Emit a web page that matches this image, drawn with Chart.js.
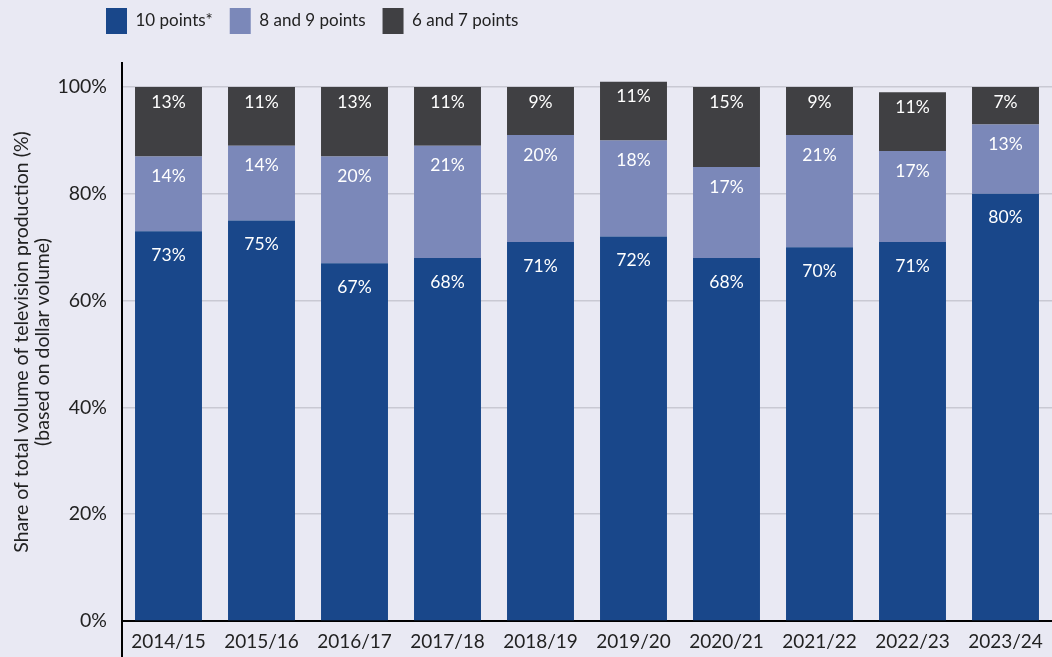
<!DOCTYPE html>
<html>
<head>
<meta charset="utf-8">
<title>Television production by points</title>
<script src="https://cdn.jsdelivr.net/npm/chart.js@4.4.1/dist/chart.umd.min.js"></script>
<style>
    html, body { margin: 0; padding: 0; background: #e9e9f3; }
    canvas { display: block; }
</style>
</head>
<body>
<canvas id="pointsChart" width="1052" height="657"></canvas>
<script>
const years = ["2014/15", "2015/16", "2016/17", "2017/18", "2018/19", "2019/20", "2020/21", "2021/22", "2022/23", "2023/24"];
const tenPoints = [73, 75, 67, 68, 71, 72, 68, 70, 71, 80];
const eightNinePoints = [14, 14, 20, 21, 20, 18, 17, 21, 17, 13];
const sixSevenPoints = [13, 11, 13, 11, 9, 11, 15, 9, 11, 7];
const yTicks = [0, 20, 40, 60, 80, 100];

const FONT = "Lato";
const TEXT = "#222222";

// white % labels near the top of each segment
const segmentLabels = {
    id: "segmentLabels",
    afterDatasetsDraw(chart) {
        const ctx = chart.ctx;
        const offsets = [24, 20, 15];
        ctx.save();
        ctx.fillStyle = "#ffffff";
        ctx.font = `17.5px ${FONT}`;
        ctx.textAlign = "center";
        ctx.textBaseline = "middle";
        chart.data.datasets.forEach((ds, i) => {
            chart.getDatasetMeta(i).data.forEach((bar, j) => {
                ctx.fillText(ds.data[j] + "%", bar.x, bar.y + offsets[i]);
            });
        });
        ctx.restore();
    },
};

// move the legend to the left, and run the y axis line down past the x axis
const frame = {
    id: "frame",
    afterLayout(chart) {
        chart.legend.left = 89;
        chart.legend.top = -9;
    },
    afterDraw(chart) {
        const ctx = chart.ctx;
        const x = chart.chartArea.left;
        ctx.save();
        ctx.strokeStyle = "#000000";
        ctx.lineWidth = 2;
        ctx.beginPath();
        ctx.moveTo(x, chart.chartArea.bottom - 1);
        ctx.lineTo(x, chart.height);
        ctx.stroke();
        ctx.restore();
    },
};

const ctx = document.getElementById("pointsChart").getContext("2d");

new Chart(ctx, {
    type: "bar",
    data: {
        labels: years,
        datasets: [
            { label: "10 points*", data: tenPoints, backgroundColor: "#19478a" },
            { label: "8 and 9 points", data: eightNinePoints, backgroundColor: "#7b88b9" },
            { label: "6 and 7 points", data: sixSevenPoints, backgroundColor: "#404043" },
        ],
    },
    options: {
        responsive: false,
        animation: false,
        layout: { padding: { top: 10, right: 0, bottom: 0, left: 0 } },
        datasets: {
            bar: { barPercentage: 0.72, categoryPercentage: 1 },
        },
        plugins: {
            tooltip: { enabled: false },
            legend: {
                position: "top",
                align: "start",
                labels: {
                    boxWidth: 21,
                    boxHeight: 26,
                    padding: 17,
                    color: TEXT,
                    font: { family: FONT, size: 17 },
                },
            },
        },
        scales: {
            x: {
                stacked: true,
                grid: { display: false, drawTicks: false },
                border: { display: true, color: "#000000", width: 2 },
                ticks: {
                    color: TEXT,
                    padding: 9,
                    font: { family: FONT, size: 19 },
                    maxRotation: 0,
                },
                afterFit(scale) { scale.height = 36; },
            },
            y: {
                stacked: true,
                min: 0,
                max: 104.5,
                afterBuildTicks(scale) {
                    scale.ticks = yTicks.map((v) => ({ value: v }));
                },
                afterFit(scale) { scale.width = 122; },
                grid: {
                    drawTicks: false,
                    lineWidth: 1.5,
                    color: (c) => (c.tick && c.tick.value === 0 ? "rgba(0,0,0,0)" : "#c9c9d3"),
                },
                border: { display: true, color: "#000000", width: 2 },
                ticks: {
                    color: TEXT,
                    padding: 15,
                    font: { family: FONT, size: 19.5 },
                    callback: (v) => v + "%",
                },
                title: {
                    display: true,
                    text: ["Share of total volume of television production (%)", "(based on dollar volume)"],
                    color: TEXT,
                    font: { family: FONT, size: 19.5, lineHeight: 1.08 },
                    padding: { top: 11, bottom: 0 },
                },
            },
        },
    },
    plugins: [segmentLabels, frame],
});
</script>
</body>
</html>
